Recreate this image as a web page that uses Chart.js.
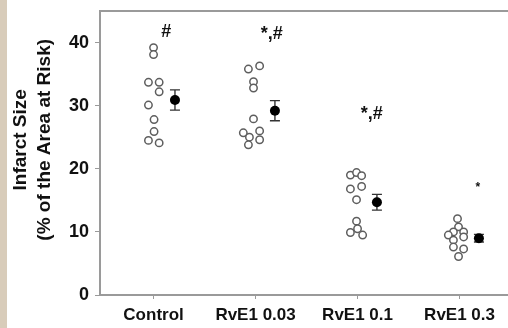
<!DOCTYPE html>
<html>
<head>
<meta charset="utf-8">
<script src="https://cdn.jsdelivr.net/npm/chart.js@4/dist/chart.umd.min.js"></script>
<style>
html,body{margin:0;padding:0;}
body{width:508px;height:328px;background:linear-gradient(to right,#d8ccba 0,#d8ccba 7px,#ffffff 7px);}
#wrap{width:508px;height:328px;position:relative;}
</style>
</head>
<body>
<div id="wrap"><canvas id="c" width="508" height="328"></canvas></div>
<script>
// ---- data ----
const categories = ["Control", "RvE1 0.03", "RvE1 0.1", "RvE1 0.3"];
const categoryPos = [1, 2, 3, 4];
const yTicks = [0, 10, 20, 30, 40];

// individual animals (x = jittered category position, y = infarct size)
const controlX = [1.0, 1.0, 0.95, 1.055, 1.055, 0.95, 1.005, 1.005, 0.95, 1.055];
const controlY = [39.2, 38.1, 33.7, 33.7, 32.2, 30.1, 27.8, 25.9, 24.5, 24.1];
const rve003X = [1.93, 2.04, 1.98, 1.98, 1.98, 1.88, 2.04, 1.94, 2.04, 1.93];
const rve003Y = [35.8, 36.3, 33.8, 32.8, 27.9, 25.7, 26.0, 25.0, 24.6, 23.8];
const rve01X = [2.93, 2.99, 3.04, 2.93, 3.04, 2.99, 2.99, 2.93, 3.0, 3.05];
const rve01Y = [19.0, 19.4, 18.9, 16.8, 17.2, 15.1, 11.7, 9.9, 10.5, 9.5];
const rve03X = [3.98, 3.99, 3.94, 4.04, 3.89, 4.04, 3.94, 3.94, 4.04, 3.99];
const rve03Y = [12.1, 10.8, 10.0, 10.0, 9.5, 9.2, 8.7, 7.6, 7.3, 6.1];

// group means +/- SEM
const meanX = [1.21, 2.19, 3.19, 4.19];
const meanY = [30.9, 29.2, 14.7, 9.0];
const semY = [1.6, 1.6, 1.25, 0.6];

// significance marks
const markText = ["#", "*,#", "*,#", "*"];
const markX = [1.125, 2.16, 3.14, 4.18];
const markY = [41.7, 41.3, 28.6, 17.0];

// ---- build ----
const zip = (xs, ys) => xs.map((x, i) => ({x: x, y: ys[i]}));
const indiv = [].concat(zip(controlX, controlY), zip(rve003X, rve003Y), zip(rve01X, rve01Y), zip(rve03X, rve03Y));
const means = zip(meanX, meanY);

const AXIS = '#9a9a9a';
const FONT = "'Liberation Sans', Arial, sans-serif";

const errorBars = {
  id: 'errorBars',
  beforeDatasetsDraw(chart) {
    const ctx = chart.ctx, xs = chart.scales.x, ys = chart.scales.y;
    ctx.save();
    ctx.strokeStyle = '#333';
    ctx.lineWidth = 1.4;
    meanX.forEach((mx, i) => {
      const px = xs.getPixelForValue(mx);
      const top = ys.getPixelForValue(meanY[i] + semY[i]);
      const bot = ys.getPixelForValue(meanY[i] - semY[i]);
      ctx.beginPath();
      ctx.moveTo(px, top); ctx.lineTo(px, bot);
      ctx.moveTo(px - 5, top); ctx.lineTo(px + 5, top);
      ctx.moveTo(px - 5, bot); ctx.lineTo(px + 5, bot);
      ctx.stroke();
    });
    ctx.restore();
  },
  afterDatasetsDraw(chart) {
    const ctx = chart.ctx, xs = chart.scales.x, ys = chart.scales.y;
    ctx.save();
    ctx.fillStyle = '#111';
    ctx.textAlign = 'center';
    ctx.textBaseline = 'middle';
    markText.forEach((t, i) => {
      ctx.font = (t === '*' ? 'bold 12px ' : 'bold 18px ') + FONT;
      ctx.fillText(t, xs.getPixelForValue(markX[i]), ys.getPixelForValue(markY[i]));
    });
    // top frame line
    const a = chart.chartArea;
    ctx.strokeStyle = AXIS;
    ctx.lineWidth = 2;
    ctx.beginPath();
    ctx.moveTo(a.left, a.top); ctx.lineTo(a.right, a.top);
    ctx.stroke();
    ctx.restore();
  }
};

new Chart(document.getElementById('c'), {
  type: 'scatter',
  data: {
    datasets: [
      {data: indiv, pointRadius: 3.7, pointHoverRadius: 3.7, borderWidth: 1.5,
       borderColor: '#5e5e5e', backgroundColor: '#ffffff', clip: false},
      {data: means, pointRadius: 5, pointHoverRadius: 5, borderWidth: 0,
       borderColor: '#000', backgroundColor: '#000', clip: false}
    ]
  },
  options: {
    responsive: false,
    animation: false,
    events: [],
    layout: {autoPadding: false, padding: {left: 0, right: 0, top: 11, bottom: 0}},
    plugins: {legend: {display: false}, tooltip: {enabled: false}},
    scales: {
      x: {
        type: 'linear', min: 0.475, max: 4.475,
        afterBuildTicks: s => { s.ticks = categoryPos.map(v => ({value: v})); },
        afterFit: s => { s.height = 33; s.paddingLeft = 0; s.paddingRight = 0; },
        grid: {drawOnChartArea: false, drawTicks: true, tickLength: 4, color: AXIS, tickColor: AXIS},
        border: {color: AXIS, width: 2},
        ticks: {
          autoSkip: false, maxRotation: 0, padding: 6, color: '#111',
          font: {family: FONT, size: 17, weight: 'bold'},
          callback: v => categories[categoryPos.indexOf(v)] || ''
        }
      },
      y: {
        min: 0, max: 45,
        afterBuildTicks: s => { s.ticks = yTicks.map(v => ({value: v})); },
        afterFit: s => { s.width = 100; s.paddingTop = 0; s.paddingBottom = 0; },
        grid: {drawOnChartArea: false, drawTicks: true, tickLength: 5, color: AXIS, tickColor: AXIS},
        border: {color: AXIS, width: 2},
        ticks: {padding: 6, color: '#111', font: {family: FONT, size: 18, weight: 'bold'}},
        title: {
          display: true,
          text: ['     Infarct Size', '     (% of the Area at Risk)'],
          color: '#111',
          font: {family: FONT, size: 19, weight: 'bold', lineHeight: 1.26},
          padding: {top: 9, bottom: 0}
        }
      }
    }
  },
  plugins: [errorBars]
});
</script>
</body>
</html>
